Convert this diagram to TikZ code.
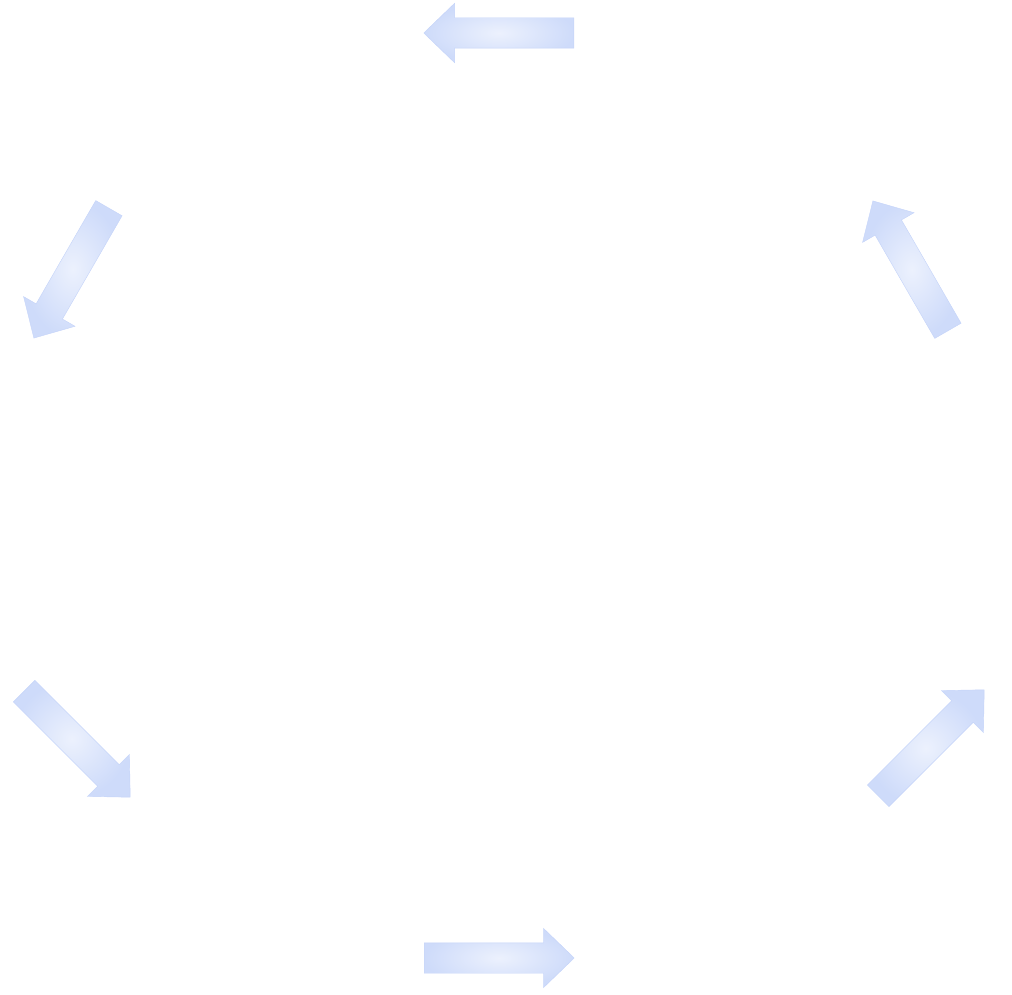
\documentclass[tikz,border=0pt]{standalone}
\usepackage{tikz}
\usetikzlibrary{shapes.arrows}
\definecolor{arrowedge}{RGB}{206,219,250}
\definecolor{arrowline}{RGB}{196,211,249}
\definecolor{arrowmid}{RGB}{236,241,253}
\tikzset{
x=1pt, y=1pt, % one unit is one pixel of the reference
turn/.style={single arrow, anchor=tail, inner xsep=0pt, inner ysep=15pt, minimum width=59pt, minimum height=150pt,
  single arrow head extend=14.5pt, single arrow tip angle=88,
  draw=arrowline, line width=0.4pt, inner color=arrowmid, outer color=arrowedge}, % every block arrow, placed by its tail
}
\begin{document}
\begin{tikzpicture}
    \useasboundingbox (0,0) rectangle (1012,994);
    \node[turn, rotate=180] (top) at (574,961) {};
    \node[turn, rotate=120] (upright) at (948,663) {};
    \node[turn, rotate=240] (upleft) at (109,786) {};
    \node[turn, rotate=-45] (downleft) at (24,303) {};
    \node[turn, rotate=45] (downright) at (878,198) {};
    \node[turn] (bottom) at (424,36) {};
\end{tikzpicture}
\end{document}
